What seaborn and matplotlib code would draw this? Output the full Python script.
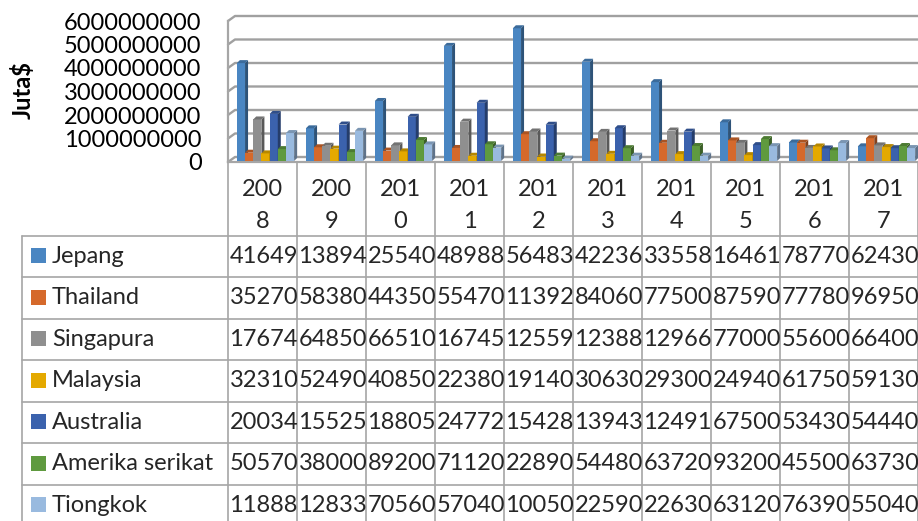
import numpy as np
import pandas as pd
import seaborn as sns
import matplotlib.pyplot as plt
from matplotlib.lines import Line2D
from matplotlib.patches import Polygon, Rectangle
from matplotlib.ticker import FuncFormatter
from matplotlib.transforms import Affine2D, IdentityTransform, ScaledTranslation, Bbox
from matplotlib.colors import to_rgb

# data (nilai ekspor, Juta$)
years = ['2008', '2009', '2010', '2011', '2012', '2013', '2014', '2015', '2016', '2017']
countries = ['Jepang', 'Thailand', 'Singapura', 'Malaysia', 'Australia', 'Amerika serikat', 'Tiongkok']
jepang = [4164900000, 1389400000, 2554000000, 4898800000, 5648300000, 4223600000, 3355800000, 1646100000, 787700000, 624300000]
thailand = [352700000, 583800000, 443500000, 554700000, 1139200000, 840600000, 775000000, 875900000, 777800000, 969500000]
singapura = [1767400000, 648500000, 665100000, 1674500000, 1255900000, 1238800000, 1296600000, 770000000, 556000000, 664000000]
malaysia = [323100000, 524900000, 408500000, 223800000, 191400000, 306300000, 293000000, 249400000, 617500000, 591300000]
australia = [2003400000, 1552500000, 1880500000, 2477200000, 1542800000, 1394300000, 1249100000, 675000000, 534300000, 544400000]
amerika = [505700000, 380000000, 892000000, 711200000, 228900000, 544800000, 637200000, 932000000, 455000000, 637300000]
tiongkok = [1188800000, 1283300000, 705600000, 570400000, 100500000, 225900000, 226300000, 631200000, 763900000, 550400000]
colors = ['#4A86C2', '#D5692B', '#8F8F8F', '#E4A900', '#3B62AD', '#5F9A3F', '#99BADF']

series = [jepang, thailand, singapura, malaysia, australia, amerika, tiongkok]
rows = []
for c, vals in zip(countries, series):
    for y, v in zip(years, vals):
        rows.append({'year': y, 'country': c, 'value': v})
df = pd.DataFrame(rows)

sns.set_theme(style='white')
plt.rcParams['font.family'] = ['Lato', 'DejaVu Sans']
FS = 17
W, H = 918, 521

fig = plt.figure(figsize=(W / 100, H / 100), dpi=100)
ax = fig.add_axes([228 / W, 1 - 162 / H, 690 / W, 141 / H])
sns.barplot(data=df, x='year', y='value', hue='country', order=years, hue_order=countries,
            palette=colors, saturation=1, width=0.83, linewidth=0, legend=False, ax=ax)
ax.set_xlim(-0.5, 9.5)
ax.set_ylim(0, 6e9)
ax.set_xticks([])
ax.set_xlabel('')
ax.set_yticks(np.arange(0, 6.5e9, 1e9))
ax.yaxis.set_major_formatter(FuncFormatter(lambda v, p: f'{v:.0f}'))
ax.tick_params(axis='y', length=0, pad=19, labelsize=FS, labelcolor='black')
ax.set_ylabel('Juta$', fontsize=FS, fontweight='bold', color='black')
ax.yaxis.label.set_va('center')
ax.yaxis.set_label_coords((23 - 228) / 690, (162 - 90) / 141)
for s in ['top', 'right']:
    ax.spines[s].set_visible(False)
for s in ['left', 'bottom']:
    ax.spines[s].set_color('#A6A6A6')
    ax.spines[s].set_linewidth(1.6)
ax.patch.set_alpha(0)

# back wall gridlines (pseudo 3D)
for v in ax.get_yticks():
    x0, y0 = ax.transData.transform((-0.5, v))
    ln = Line2D([x0, x0 + 7, W], [y0, y0 + 5, y0 + 5], transform=IdentityTransform(),
                color='#A0A0A0', lw=1.7, zorder=1, clip_on=False)
    ax.add_line(ln)

# bars: shift to the 3D position and add side / top faces
shift = ScaledTranslation(3 / 100, 1 / 100, fig.dpi_scale_trans)
bars = list(ax.patches)
n_year = len(years)
for i, p in enumerate(bars):
    k = i // n_year
    p.set_transform(ax.transData + shift)
    p.set_zorder(3 + 0.2 * k)
    verts = p.get_verts()
    xa, xb = verts[:, 0].min(), verts[:, 0].max()
    ya, yb = verts[:, 1].min(), verts[:, 1].max()
    base = np.array(to_rgb(p.get_facecolor()))
    d = 3
    side = Polygon([(xb, ya), (xb + d, ya + d), (xb + d, yb + d), (xb, yb)], closed=True,
                   transform=IdentityTransform(), facecolor=base * 0.62, lw=0, zorder=3 + 0.2 * k + 0.1)
    top = Polygon([(xa, yb), (xa + d, yb + d), (xb + d, yb + d), (xb, yb)], closed=True,
                  transform=IdentityTransform(), facecolor=base * 0.8, lw=0, zorder=3 + 0.2 * k + 0.1)
    ax.add_patch(side)
    ax.add_patch(top)
ax.set_xlim(-0.5, 9.5)
ax.set_ylim(0, 6e9)

# data table
px = Affine2D().scale(1, -1).translate(0, H)
bx = [ax.transData.transform((i - 0.5, 0))[0] for i in range(n_year + 1)]
top0, rh = 235.5, 41.5
grid_c = '#A6A6A6'

for xb_ in bx:
    fig.add_artist(Line2D([xb_, xb_], [162, H], transform=px, color=grid_c, lw=1.2))
fig.add_artist(Line2D([22, 22], [top0, H], transform=px, color=grid_c, lw=1.2))
for r in range(len(countries) + 1):
    yy = top0 + r * rh
    fig.add_artist(Line2D([22, W], [yy, yy], transform=px, color=grid_c, lw=1.2))

for j, y in enumerate(years):
    cx = (bx[j] + bx[j + 1]) / 2
    fig.text(cx, 189, y[:3], transform=px, ha='center', va='center', fontsize=FS)
    fig.text(cx, 221, y[3:], transform=px, ha='center', va='center', fontsize=FS)

for r, (c, vals, col) in enumerate(zip(countries, series, colors)):
    cy = top0 + r * rh + rh / 2
    fig.add_artist(Rectangle((31, cy - 8), 15, 15, transform=px, facecolor=col, lw=0))
    fig.text(52, cy, c, transform=px, ha='left', va='center', fontsize=FS)
    for j, v in enumerate(vals):
        t = fig.text(bx[j] + 1.5, cy, f'{v:d}'[:5], transform=px, ha='left', va='center', fontsize=FS)
        t.set_clip_box(Bbox([[bx[j], H - (cy + rh / 2)], [bx[j + 1], H - (cy - rh / 2)]]))
        t.set_clip_on(True)

fig.savefig('out.png', dpi=100)
